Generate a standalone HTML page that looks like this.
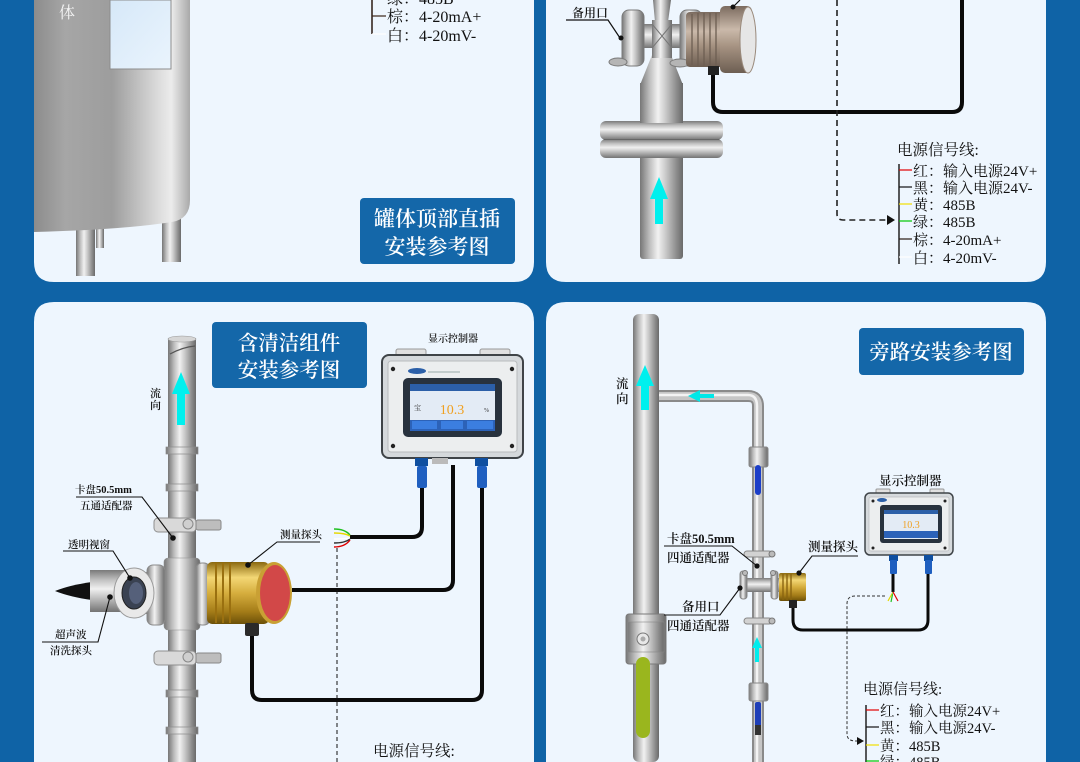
<!DOCTYPE html>
<html><head><meta charset="utf-8">
<style>
html,body{margin:0;padding:0;background:#0f63a6;width:1080px;height:762px;overflow:hidden}
svg{display:block}
text{font-family:"Liberation Serif","Noto Serif CJK SC",serif;}
</style></head><body>
<svg width="1080" height="762" viewBox="0 0 1080 762" xmlns="http://www.w3.org/2000/svg">
<defs>
<linearGradient id="mv" x1="0" x2="1" y1="0" y2="0">
<stop offset="0" stop-color="#767676"/><stop offset=".22" stop-color="#bdbdbd"/><stop offset=".42" stop-color="#f1f1f1"/><stop offset=".6" stop-color="#c9c9c9"/><stop offset=".85" stop-color="#8c8c8c"/><stop offset="1" stop-color="#6a6a6a"/>
</linearGradient>
<linearGradient id="mh" x1="0" x2="0" y1="0" y2="1">
<stop offset="0" stop-color="#7a7a7a"/><stop offset=".25" stop-color="#c4c4c4"/><stop offset=".45" stop-color="#f0f0f0"/><stop offset=".65" stop-color="#c4c4c4"/><stop offset="1" stop-color="#737373"/>
</linearGradient>
<linearGradient id="tank" x1="0" x2="1" y1="0" y2="0">
<stop offset="0" stop-color="#8c8c8c"/><stop offset=".2" stop-color="#a6a6a6"/><stop offset=".5" stop-color="#9d9d9d"/><stop offset=".78" stop-color="#d8d8d8"/><stop offset=".88" stop-color="#ececec"/><stop offset="1" stop-color="#a9a9a9"/>
</linearGradient>
<linearGradient id="gold" x1="0" x2="0" y1="0" y2="1">
<stop offset="0" stop-color="#8a6810"/><stop offset=".25" stop-color="#f3d775"/><stop offset=".5" stop-color="#d6ae3e"/><stop offset=".8" stop-color="#a47c18"/><stop offset="1" stop-color="#6c5008"/>
</linearGradient>
<linearGradient id="brown" x1="0" x2="0" y1="0" y2="1">
<stop offset="0" stop-color="#7b6b5f"/><stop offset=".35" stop-color="#cab9aa"/><stop offset=".6" stop-color="#a69382"/><stop offset="1" stop-color="#6d5e52"/>
</linearGradient>
<linearGradient id="win" x1="0" x2="1" y1="0" y2="1">
<stop offset="0" stop-color="#d6e8f8"/><stop offset="1" stop-color="#eaf4fd"/>
</linearGradient>
</defs>

<rect width="1080" height="762" fill="#0f63a6"/>
<path d="M34,0 H534 V262 Q534,282 514,282 H54 Q34,282 34,262 Z" fill="#eef6fe"/>
<path d="M546,0 H1046 V262 Q1046,282 1026,282 H566 Q546,282 546,262 Z" fill="#eef6fe"/>
<path d="M34,762 V322 Q34,302 54,302 H514 Q534,302 534,322 V762 Z" fill="#eef6fe"/>
<path d="M546,762 V322 Q546,302 566,302 H1026 Q1046,302 1046,322 V762 Z" fill="#eef6fe"/>

<!-- ============ TOP LEFT ============ -->
<rect x="76" y="226" width="19" height="50" fill="url(#mv)"/>
<rect x="96" y="226" width="8" height="22" fill="url(#mv)"/>
<rect x="162" y="216" width="19" height="46" fill="url(#mv)"/>
<path d="M34,0 H190 V200 Q190,219 172,222 Q120,230 34,232 Z" fill="url(#tank)"/>
<rect x="110" y="0" width="61" height="69" fill="url(#win)" stroke="#8d8d8d" stroke-width="1"/>
<text x="59" y="18" font-size="16" fill="#f4f4f4">体</text>

<line x1="372" y1="0" x2="372" y2="34" stroke="#2a1a12" stroke-width="1.5"/>
<line x1="372" y1="16" x2="386" y2="16" stroke="#3a2418" stroke-width="1.2"/>
<line x1="372" y1="34" x2="386" y2="34" stroke="#ffffff" stroke-width="1.2"/>
<text x="387" y="4" font-size="16" fill="#111">绿：485B</text>
<text x="387" y="22" font-size="16" fill="#111">棕：4-20mA+</text>
<text x="387" y="41" font-size="16" fill="#111">白：4-20mV-</text>

<rect x="360" y="198" width="155" height="66" rx="4" fill="#1467a9"/>
<text x="437" y="226" font-size="21" fill="#fff" text-anchor="middle" font-weight="600">罐体顶部直插</text>
<text x="437" y="254" font-size="21" fill="#fff" text-anchor="middle" font-weight="600">安装参考图</text>

<!-- ============ TOP RIGHT ============ -->
<path d="M713,72 V102 Q713,112 723,112 H952 Q962,112 962,102 V0" fill="none" stroke="#0a0a0a" stroke-width="4"/>
<path d="M837,0 V214 Q837,220 843,220 H888" fill="none" stroke="#222" stroke-width="1.6" stroke-dasharray="6,4"/>
<polygon points="887,215 895,220 887,225" fill="#111"/>

<rect x="640" y="155" width="43" height="104" rx="3" fill="url(#mv)"/>
<rect x="600" y="139" width="123" height="19" rx="6" fill="url(#mh)"/>
<rect x="600" y="121" width="123" height="19" rx="6" fill="url(#mh)"/>
<line x1="604" y1="139.5" x2="719" y2="139.5" stroke="#666" stroke-width="1"/>
<rect x="640" y="83" width="43" height="40" fill="url(#mv)"/>
<path d="M652,55 L671,55 L683,85 L640,85 Z" fill="url(#mv)"/>
<path d="M653,0 L671,0 L668,22 L655,22 Z" fill="url(#mv)"/>
<rect x="628" y="24" width="80" height="24" fill="url(#mh)"/>
<rect x="652" y="20" width="20" height="38" fill="url(#mv)"/>
<path d="M652,24 L672,48 M672,24 L652,48" stroke="#777" stroke-width="1"/>
<rect x="622" y="10" width="22" height="56" rx="7" fill="url(#mv)" stroke="#7a7a7a" stroke-width="1"/>
<rect x="680" y="10" width="22" height="56" rx="7" fill="url(#mv)" stroke="#7a7a7a" stroke-width="1"/>
<ellipse cx="618" cy="62" rx="9" ry="4" fill="#b5b5b5" stroke="#7a7a7a"/>
<ellipse cx="680" cy="63" rx="10" ry="4" fill="#b5b5b5" stroke="#7a7a7a"/>
<rect x="686" y="12" width="38" height="55" rx="4" fill="url(#brown)"/>
<g stroke="#6d5e52" stroke-width="1.3">
<line x1="692" y1="14" x2="692" y2="65"/><line x1="698" y1="13" x2="698" y2="66"/><line x1="704" y1="13" x2="704" y2="66"/><line x1="710" y1="13" x2="710" y2="66"/><line x1="716" y1="13" x2="716" y2="66"/>
</g>
<rect x="720" y="6" width="32" height="67" rx="5" fill="url(#brown)"/>
<ellipse cx="748" cy="40" rx="8" ry="33" fill="#e6e6e6" stroke="#9a8a7c"/>
<rect x="708" y="66" width="11" height="9" fill="#222"/>
<line x1="733" y1="7" x2="740" y2="0" stroke="#111" stroke-width="1.2"/>
<circle cx="733" cy="7" r="2.5" fill="#111"/>
<polygon points="659,177 668,199 663,199 663,224 655,224 655,199 650,199" fill="#00f0ee"/>
<text x="572" y="17" font-size="12" fill="#111" font-weight="600">备用口</text>
<path d="M566,20 H608 L620,38" fill="none" stroke="#111" stroke-width="1.2"/>
<circle cx="621" cy="38" r="2.5" fill="#111"/>

<text x="897" y="155" font-size="15.5" fill="#111">电源信号线:</text>
<line x1="899" y1="164" x2="899" y2="264" stroke="#222" stroke-width="1.5"/>
<line x1="899" y1="170" x2="912" y2="170" stroke="#e00000" stroke-width="1.2"/>
<line x1="899" y1="187" x2="912" y2="187" stroke="#111" stroke-width="1.2"/>
<line x1="899" y1="204" x2="912" y2="204" stroke="#f2e000" stroke-width="1.2"/>
<line x1="899" y1="221" x2="912" y2="221" stroke="#00c800" stroke-width="1.2"/>
<line x1="899" y1="239" x2="912" y2="239" stroke="#2a1a12" stroke-width="1.2"/>
<line x1="899" y1="257" x2="912" y2="257" stroke="#ffffff" stroke-width="1.2"/>
<g font-size="15" fill="#111">
<text x="913" y="176">红：输入电源24V+</text>
<text x="913" y="193">黑：输入电源24V-</text>
<text x="913" y="210">黄：485B</text>
<text x="913" y="227">绿：485B</text>
<text x="913" y="245">棕：4-20mA+</text>
<text x="913" y="263">白：4-20mV-</text>
</g>

<!-- ============ BOTTOM LEFT ============ -->
<rect x="212" y="322" width="155" height="66" rx="4" fill="#1467a9"/>
<text x="289" y="350" font-size="20.5" fill="#fff" text-anchor="middle" font-weight="600">含清洁组件</text>
<text x="289" y="377" font-size="20.5" fill="#fff" text-anchor="middle" font-weight="600">安装参考图</text>

<path d="M292,590 H443 Q453,590 453,580 V465" fill="none" stroke="#0a0a0a" stroke-width="4"/>
<path d="M422,486 V527 Q422,537 412,537 H350" fill="none" stroke="#0a0a0a" stroke-width="4"/>
<path d="M482,486 V690 Q482,700 472,700 H262 Q252,700 252,690 V636" fill="none" stroke="#0a0a0a" stroke-width="4"/>
<g stroke-width="1.4" fill="none">
<path d="M350,535 Q345,529 334,529" stroke="#20c020"/>
<path d="M350,536 Q345,533 334,533" stroke="#e6d800"/>
<path d="M350,538 Q345,539 334,539" stroke="#ffffff"/>
<path d="M350,539 Q345,543 334,543" stroke="#333"/>
<path d="M350,540 Q345,547 334,547" stroke="#e00000"/>
</g>
<line x1="337" y1="548" x2="337" y2="762" stroke="#111" stroke-width="1" stroke-dasharray="4,3"/>

<rect x="168" y="338" width="28" height="424" fill="url(#mv)"/>
<ellipse cx="182" cy="339" rx="14" ry="3" fill="#d6d6d6" stroke="#999" stroke-width=".6"/>
<path d="M170,354 Q183,347 195,346" stroke="#555" stroke-width="1.2" fill="none"/>
<g fill="url(#mv)" stroke="#8a8a8a" stroke-width=".7">
<rect x="166" y="447" width="32" height="7"/><rect x="166" y="484" width="32" height="7"/>
<rect x="166" y="690" width="32" height="7"/><rect x="166" y="727" width="32" height="7"/>
</g>
<polygon points="181,372 190,394 185,394 185,425 177,425 177,394 172,394" fill="#00f0ee"/>
<text x="150" y="397" font-size="11" fill="#111" font-weight="600">流</text>
<text x="150" y="409" font-size="11" fill="#111" font-weight="600">向</text>
<rect x="154" y="518" width="42" height="14" rx="4" fill="#d9d9d9" stroke="#8f8f8f"/>
<rect x="196" y="520" width="25" height="10" rx="2" fill="#bdbdbd" stroke="#888"/>
<circle cx="188" cy="524" r="5" fill="#cfcfcf" stroke="#888"/>
<rect x="154" y="651" width="42" height="14" rx="4" fill="#d9d9d9" stroke="#8f8f8f"/>
<rect x="196" y="653" width="25" height="10" rx="2" fill="#bdbdbd" stroke="#888"/>
<circle cx="188" cy="657" r="5" fill="#cfcfcf" stroke="#888"/>
<rect x="140" y="572" width="75" height="42" fill="url(#mh)"/>
<rect x="164" y="558" width="36" height="72" rx="4" fill="url(#mv)" stroke="#909090" stroke-width=".6"/>
<rect x="147" y="565" width="18" height="60" rx="6" fill="url(#mv)" stroke="#8a8a8a"/>
<rect x="196" y="563" width="14" height="62" rx="6" fill="url(#mv)" stroke="#8a8a8a"/>
<path d="M55,591 Q70,585 92,582 L92,600 Q70,597 55,591 Z" fill="#111"/>
<rect x="90" y="570" width="40" height="42" fill="url(#mh)"/>
<ellipse cx="134" cy="593" rx="20" ry="25" fill="#e9e9e9" stroke="#9a9a9a"/>
<ellipse cx="134" cy="593" rx="12" ry="16" fill="#3a4252" stroke="#222"/>
<ellipse cx="136" cy="593" rx="7" ry="11" fill="#55607a"/>
<rect x="207" y="562" width="62" height="62" rx="5" fill="url(#gold)"/>
<g stroke="#9a7010" stroke-width="2"><line x1="216" y1="563" x2="216" y2="623"/><line x1="223" y1="563" x2="223" y2="623"/><line x1="230" y1="563" x2="230" y2="623"/></g>
<ellipse cx="274" cy="593" rx="18" ry="31" fill="#c9a034"/>
<ellipse cx="275" cy="593" rx="15" ry="28" fill="#d24848"/>
<rect x="245" y="623" width="14" height="13" rx="2" fill="#2a2a2a"/>

<rect x="396" y="349" width="30" height="9" rx="2" fill="#e0e0e0" stroke="#999"/>
<rect x="480" y="349" width="30" height="9" rx="2" fill="#e0e0e0" stroke="#999"/>
<rect x="382" y="355" width="141" height="103" rx="7" fill="#d5d9dc" stroke="#3f4448" stroke-width="2"/>
<rect x="388" y="361" width="129" height="91" rx="3" fill="#eceeef" stroke="#b9bcbe"/>
<circle cx="393" cy="369" r="2.2" fill="#222"/><circle cx="512" cy="369" r="2.2" fill="#222"/>
<circle cx="393" cy="446" r="2.2" fill="#222"/><circle cx="512" cy="446" r="2.2" fill="#222"/>
<ellipse cx="417" cy="371" rx="9" ry="3" fill="#2b5fa8"/>
<line x1="428" y1="372" x2="460" y2="372" stroke="#9aa" stroke-width="1"/>
<rect x="403" y="378" width="99" height="59" rx="5" fill="#28323e"/>
<rect x="410" y="384" width="85" height="47" fill="#e3ebf5"/>
<rect x="410" y="384" width="85" height="7" fill="#2c5fa8"/>
<rect x="410" y="420" width="85" height="11" fill="#2c62b8"/>
<rect x="412" y="421" width="25" height="8" fill="#3b7ee0"/><rect x="441" y="421" width="22" height="8" fill="#3b7ee0"/><rect x="467" y="421" width="26" height="8" fill="#3b7ee0"/>
<text x="452" y="414" font-size="14" fill="#f0a020" text-anchor="middle" font-family="Liberation Sans, sans-serif">10.3</text>
<text x="414" y="410" font-size="7" fill="#333">宝</text>
<text x="484" y="412" font-size="6" fill="#333">%</text>
<rect x="415" y="458" width="13" height="8" fill="#0f4fa0"/><rect x="417" y="466" width="10" height="22" rx="2" fill="#1f5fc0"/>
<rect x="475" y="458" width="13" height="8" fill="#0f4fa0"/><rect x="477" y="466" width="10" height="22" rx="2" fill="#1f5fc0"/>
<rect x="432" y="458" width="16" height="6" fill="#bbb"/>
<text x="428" y="342" font-size="10" fill="#111" font-weight="600">显示控制器</text>

<g fill="#111" font-size="10.5" font-weight="600">
<text x="75" y="493">卡盘50.5mm</text>
<text x="80" y="509">五通适配器</text>
<text x="68" y="548">透明视窗</text>
<text x="55" y="638">超声波</text>
<text x="50" y="654">清洗探头</text>
<text x="280" y="538">测量探头</text>
</g>
<g stroke="#111" stroke-width="1.1" fill="none">
<path d="M76,497 H142 L173,538"/>
<path d="M63,551 H113 L130,578"/>
<path d="M42,642 H98 L110,597"/>
<path d="M320,542 H277 L248,565"/>
</g>
<circle cx="173" cy="538" r="2.8" fill="#111"/>
<circle cx="130" cy="578" r="2.8" fill="#111"/>
<circle cx="110" cy="597" r="2.8" fill="#111"/>
<circle cx="248" cy="565" r="2.8" fill="#111"/>

<text x="373" y="756" font-size="15.5" fill="#111">电源信号线:</text>

<!-- ============ BOTTOM RIGHT ============ -->
<rect x="859" y="328" width="165" height="47" rx="4" fill="#1467a9"/>
<text x="941" y="359" font-size="20.5" fill="#fff" text-anchor="middle" font-weight="600">旁路安装参考图</text>

<path d="M658,396 H748 Q758,396 758,406 V762" fill="none" stroke="#8a8a8a" stroke-width="12"/>
<path d="M658,396 H748 Q758,396 758,406 V762" fill="none" stroke="#c6c6c6" stroke-width="8"/>
<path d="M658,395 H748 Q757,395 757,406 V762" fill="none" stroke="#f3f3f3" stroke-width="2.5"/>
<rect x="633" y="314" width="26" height="448" rx="6" fill="url(#mv)"/>
<polygon points="645,365 654,386 649,386 649,410 641,410 641,386 636,386" fill="#00f0ee"/>
<polygon points="688,396 700,390 700,394 714,394 714,398 700,398 700,402" fill="#00e8e8"/>
<text x="616" y="388" font-size="12.5" fill="#111" font-weight="600">流</text>
<text x="616" y="403" font-size="12.5" fill="#111" font-weight="600">向</text>
<rect x="626" y="614" width="40" height="50" rx="3" fill="url(#mv)" stroke="#7a7a7a"/>
<rect x="628" y="622" width="36" height="30" fill="url(#mv)" stroke="#888" stroke-width=".6"/>
<circle cx="643" cy="639" r="6" fill="#e8e8e8" stroke="#777"/>
<circle cx="643" cy="639" r="2.5" fill="#aaa"/>
<rect x="636" y="657" width="14" height="81" rx="7" fill="#9ab61e"/>
<rect x="749" y="447" width="19" height="20" rx="2" fill="url(#mv)" stroke="#888"/>
<rect x="755" y="465" width="6" height="30" rx="3" fill="#1b3ec8"/>
<rect x="749" y="683" width="19" height="18" rx="2" fill="url(#mv)" stroke="#888"/>
<rect x="755" y="702" width="6" height="32" rx="2" fill="#1e3fb8"/>
<rect x="755" y="725" width="6" height="10" fill="#333"/>
<polygon points="757,637 762,648 759,648 759,662 755,662 755,648 752,648" fill="#00eded"/>
<rect x="744" y="551" width="28" height="6" rx="3" fill="#d2d2d2" stroke="#888"/>
<circle cx="772" cy="554" r="3" fill="#bbb" stroke="#777"/>
<rect x="740" y="578" width="40" height="14" fill="url(#mh)"/>
<rect x="740" y="571" width="7" height="28" rx="3" fill="url(#mv)" stroke="#888"/>
<rect x="771" y="571" width="7" height="28" rx="3" fill="url(#mv)" stroke="#888"/>
<circle cx="745" cy="573" r="2.5" fill="#bbb" stroke="#777"/><circle cx="773" cy="573" r="2.5" fill="#bbb" stroke="#777"/>
<rect x="744" y="618" width="28" height="6" rx="3" fill="#d2d2d2" stroke="#888"/>
<circle cx="772" cy="621" r="3" fill="#bbb" stroke="#777"/>
<rect x="779" y="573" width="27" height="28" rx="2" fill="url(#gold)"/>
<g stroke="#8a6410" stroke-width="1.4"><line x1="783" y1="574" x2="783" y2="600"/><line x1="787" y1="574" x2="787" y2="600"/><line x1="791" y1="574" x2="791" y2="600"/></g>
<rect x="789" y="600" width="8" height="8" fill="#222"/>
<path d="M793,608 V620 Q793,630 803,630 H918 Q928,630 928,620 V574" fill="none" stroke="#0a0a0a" stroke-width="3"/>
<line x1="893" y1="574" x2="893" y2="592" stroke="#0a0a0a" stroke-width="3"/>
<g stroke-width="1.2" fill="none">
<path d="M893,592 L888,601" stroke="#e6d800"/><path d="M893,592 L891,602" stroke="#20c020"/>
<path d="M893,592 L895,602" stroke="#ffffff"/><path d="M893,592 L898,601" stroke="#e00000"/>
</g>
<path d="M885,596 H855 Q847,596 847,604 V734 Q847,741 856,741 H858" fill="none" stroke="#333" stroke-width="1" stroke-dasharray="3,2"/>
<polygon points="857,737 864,741 857,745" fill="#111"/>
<rect x="876" y="489" width="14" height="6" rx="1" fill="#e0e0e0" stroke="#999"/>
<rect x="930" y="489" width="14" height="6" rx="1" fill="#e0e0e0" stroke="#999"/>
<rect x="865" y="493" width="88" height="62" rx="5" fill="#d6dadd" stroke="#3f4448" stroke-width="1.5"/>
<rect x="869" y="497" width="80" height="54" rx="2" fill="#eceeef" stroke="#b9bcbe" stroke-width=".7"/>
<circle cx="873" cy="501" r="1.5" fill="#222"/><circle cx="945" cy="501" r="1.5" fill="#222"/>
<circle cx="873" cy="548" r="1.5" fill="#222"/><circle cx="945" cy="548" r="1.5" fill="#222"/>
<ellipse cx="882" cy="500" rx="5" ry="2" fill="#2b5fa8"/>
<rect x="880" y="505" width="62" height="38" rx="3" fill="#28323e"/>
<rect x="884" y="510" width="54" height="29" fill="#e3ebf5"/>
<rect x="884" y="510" width="54" height="4" fill="#2c5fa8"/>
<rect x="884" y="531" width="54" height="7" fill="#2c62b8"/>
<text x="911" y="528" font-size="10" fill="#f0a020" text-anchor="middle" font-family="Liberation Sans, sans-serif">10.3</text>
<rect x="889" y="555" width="9" height="6" fill="#0f4fa0"/><rect x="890" y="560" width="7" height="14" rx="1" fill="#1f5fc0"/>
<rect x="924" y="555" width="9" height="6" fill="#0f4fa0"/><rect x="925" y="560" width="7" height="14" rx="1" fill="#1f5fc0"/>
<text x="879" y="485" font-size="12.5" fill="#111" font-weight="600">显示控制器</text>

<g fill="#111" font-size="12.5" font-weight="600">
<text x="667" y="543">卡盘50.5mm</text>
<text x="667" y="562">四通适配器</text>
<text x="682" y="611">备用口</text>
<text x="667" y="630">四通适配器</text>
<text x="808" y="551">测量探头</text>
</g>
<g stroke="#111" stroke-width="1.1" fill="none">
<path d="M664,546 H732 L757,566"/>
<path d="M664,615 H720 L740,588"/>
<path d="M858,556 H812 L799,573"/>
</g>
<circle cx="757" cy="566" r="2.6" fill="#111"/>
<circle cx="740" cy="588" r="2.6" fill="#111"/>
<circle cx="799" cy="573" r="2.6" fill="#111"/>

<text x="863" y="694" font-size="15" fill="#111">电源信号线:</text>
<line x1="866" y1="705" x2="866" y2="762" stroke="#222" stroke-width="1.5"/>
<line x1="866" y1="710" x2="879" y2="710" stroke="#e00000" stroke-width="1.2"/>
<line x1="866" y1="727" x2="879" y2="727" stroke="#111" stroke-width="1.2"/>
<line x1="866" y1="745" x2="879" y2="745" stroke="#f2e000" stroke-width="1.2"/>
<line x1="866" y1="761" x2="879" y2="761" stroke="#00c800" stroke-width="1.2"/>
<g font-size="14.5" fill="#111">
<text x="880" y="716">红：输入电源24V+</text>
<text x="880" y="733">黑：输入电源24V-</text>
<text x="880" y="751">黄：485B</text>
<text x="880" y="767">绿：485B</text>
</g>
</svg>
</body></html>
